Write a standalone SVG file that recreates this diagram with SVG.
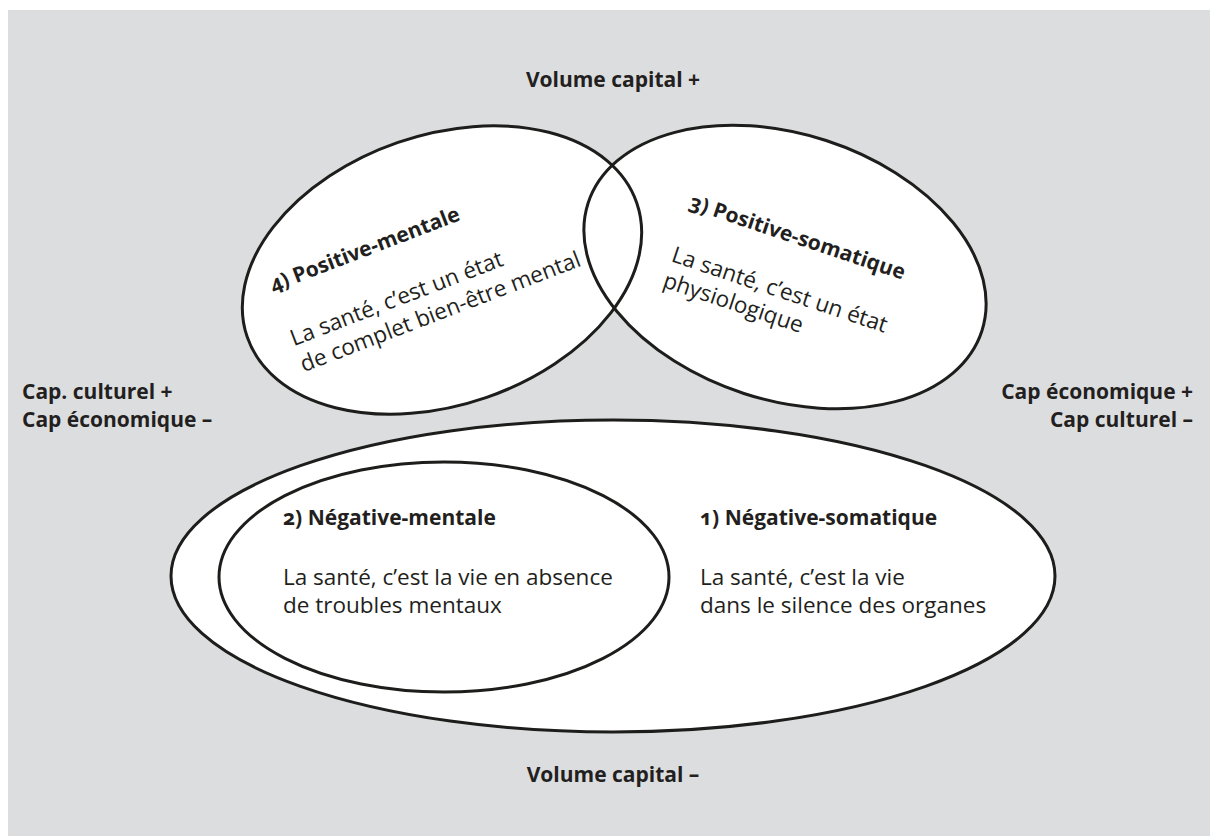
<svg xmlns="http://www.w3.org/2000/svg" width="1210" height="836" viewBox="0 0 1210 836">
<style>
.bg{fill:#dcdddf}
.fillw{fill:#ffffff;stroke:none}
.ring{fill:none;stroke:#1d1d1b;stroke-width:3}
text{font-family:"Open Sans","Noto Sans",sans-serif;fill:#231f20;font-variant-numeric:oldstyle-nums}
.b{font-weight:700;font-size:21px}
.r{font-weight:400;font-size:22.5px}
</style>
<rect x="0" y="0" width="1210" height="836" fill="#ffffff"/>
<rect class="bg" x="8" y="10" width="1202" height="826"/>
<g id="fills">
<ellipse class="fillw" cx="442" cy="270" rx="206" ry="135" transform="rotate(-19 442 270)"/>
<ellipse class="fillw" cx="785" cy="267" rx="207" ry="133" transform="rotate(18 785 267)"/>
</g>
<g id="node-positive-mentale">
<ellipse class="ring" cx="442" cy="270" rx="206" ry="135" transform="rotate(-19 442 270)"/>
<g transform="translate(273 292) rotate(-21)">
<text class="b" x="0" y="0">4) Positive-mentale</text>
<text class="r" x="0" y="58">La santé, c’est un état</text>
<text class="r" x="0" y="86">de complet bien-être mental</text>
</g>
</g>
<g id="node-positive-somatique">
<ellipse class="ring" cx="785" cy="267" rx="207" ry="133" transform="rotate(18 785 267)"/>
<g transform="translate(688 208) rotate(18.5)">
<text class="b" x="0" y="0">3) Positive-somatique</text>
<text class="r" x="0" y="56">La santé, c’est un état</text>
<text class="r" x="0" y="83">physiologique</text>
</g>
</g>
<g id="node-negative-somatique">
<ellipse class="fillw" cx="613" cy="576" rx="442" ry="156"/>
<ellipse class="ring" cx="613" cy="576" rx="442" ry="156"/>
<text class="b" x="700" y="525">1) Négative-somatique</text>
<text class="r" x="700" y="585">La santé, c’est la vie</text>
<text class="r" x="700" y="613">dans le silence des organes</text>
</g>
<g id="node-negative-mentale">
<ellipse class="fillw" cx="444" cy="577" rx="225" ry="115"/>
<ellipse class="ring" cx="444" cy="577" rx="225" ry="115"/>
<text class="b" x="283" y="525">2) Négative-mentale</text>
<text class="r" x="283" y="585">La santé, c’est la vie en absence</text>
<text class="r" x="283" y="613">de troubles mentaux</text>
</g>
<g id="axis-labels">
<text class="b" x="613" y="87" text-anchor="middle">Volume capital +</text>
<text class="b" x="613" y="782" text-anchor="middle">Volume capital –</text>
<text class="b"><tspan x="22" y="399">Cap. culturel +</tspan><tspan x="22" y="427">Cap économique –</tspan></text>
<text class="b" text-anchor="end"><tspan x="1193" y="399">Cap économique +</tspan><tspan x="1193" y="427">Cap culturel –</tspan></text>
</g>
<g id="connectors"/>
</svg>
